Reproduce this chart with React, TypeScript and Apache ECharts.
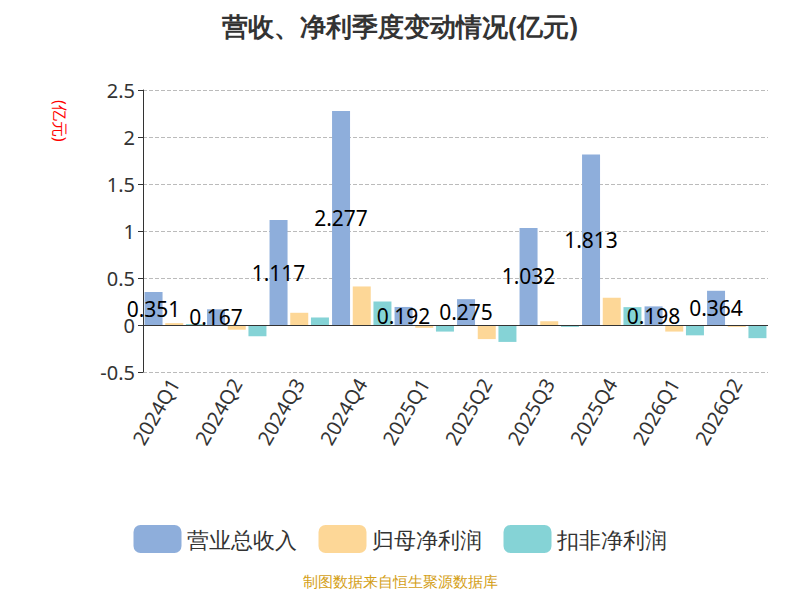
import { useEffect, useRef } from 'react';
import * as echarts from 'echarts';

const categories = ['2024Q1', '2024Q2', '2024Q3', '2024Q4', '2025Q1', '2025Q2', '2025Q3', '2025Q4', '2026Q1', '2026Q2'];
const revenue = [0.351, 0.167, 1.117, 2.277, 0.192, 0.275, 1.032, 1.813, 0.198, 0.364];
const netProfit = [0.02, -0.05, 0.13, 0.41, -0.03, -0.15, 0.04, 0.29, -0.07, -0.02];
const deductedProfit = [0.01, -0.12, 0.08, 0.25, -0.07, -0.18, -0.02, 0.19, -0.11, -0.14];

export default function App() {
  const ref = useRef<HTMLDivElement | null>(null);

  useEffect(() => {
    if (!ref.current) return;
    const chart = echarts.init(ref.current, null, { renderer: 'svg' });
    const font = '"Noto Sans", sans-serif';
    chart.setOption({
      animation: false,
      textStyle: { fontFamily: font },
      title: {
        text: '营收、净利季度变动情况(亿元)',
        left: 'center',
        top: 0,
        textStyle: { fontSize: 26, fontWeight: 'bold', color: '#333' }
      },
      legend: {
        bottom: 34,
        itemWidth: 48,
        itemHeight: 28,
        itemGap: 22,
        textStyle: { fontSize: 22, color: '#333' },
        data: ['营业总收入', '归母净利润', '扣非净利润']
      },
      graphic: [
        {
          type: 'text',
          left: 'center',
          bottom: 4,
          style: { text: '制图数据来自恒生聚源数据库', fill: '#d4a017', fontSize: 15, fontFamily: font }
        },
        {
          type: 'text',
          x: 60,
          y: 92,
          rotation: -Math.PI / 2,
          style: { text: '(亿元)', fill: 'red', fontSize: 16, fontFamily: font }
        }
      ],
      grid: { left: 135, right: 24, top: 82, bottom: 220 },
      xAxis: {
        type: 'category',
        data: categories,
        axisLine: { show: false },
        axisTick: { show: false },
        axisLabel: { rotate: 60, fontSize: 20, color: '#333', margin: 8 }
      },
      yAxis: {
        type: 'value',
        min: -0.5,
        max: 2.5,
        interval: 0.5,
        axisLine: { show: true, lineStyle: { color: '#333' } },
        axisTick: { show: true },
        axisLabel: { fontSize: 20, color: '#333' },
        splitLine: { lineStyle: { type: 'dashed', color: '#bbb' } }
      },
      series: [
        {
          name: '营业总收入',
          type: 'bar',
          data: revenue,
          barWidth: 18,
          barGap: '15%',
          itemStyle: { color: '#8eaedb' },
          label: { show: true, position: 'inside', fontSize: 21, color: '#000' },
          markLine: {
            silent: true,
            symbol: 'none',
            label: { show: false },
            lineStyle: { color: '#333', type: 'solid', width: 1 },
            data: [{ yAxis: 0 }]
          }
        },
        { name: '归母净利润', type: 'bar', data: netProfit, barWidth: 18, itemStyle: { color: '#fdd797' } },
        { name: '扣非净利润', type: 'bar', data: deductedProfit, barWidth: 18, itemStyle: { color: '#85d3d6' } }
      ]
    });
    return () => chart.dispose();
  }, []);

  return <div ref={ref} style={{ width: 784, height: 584 }} />;
}
